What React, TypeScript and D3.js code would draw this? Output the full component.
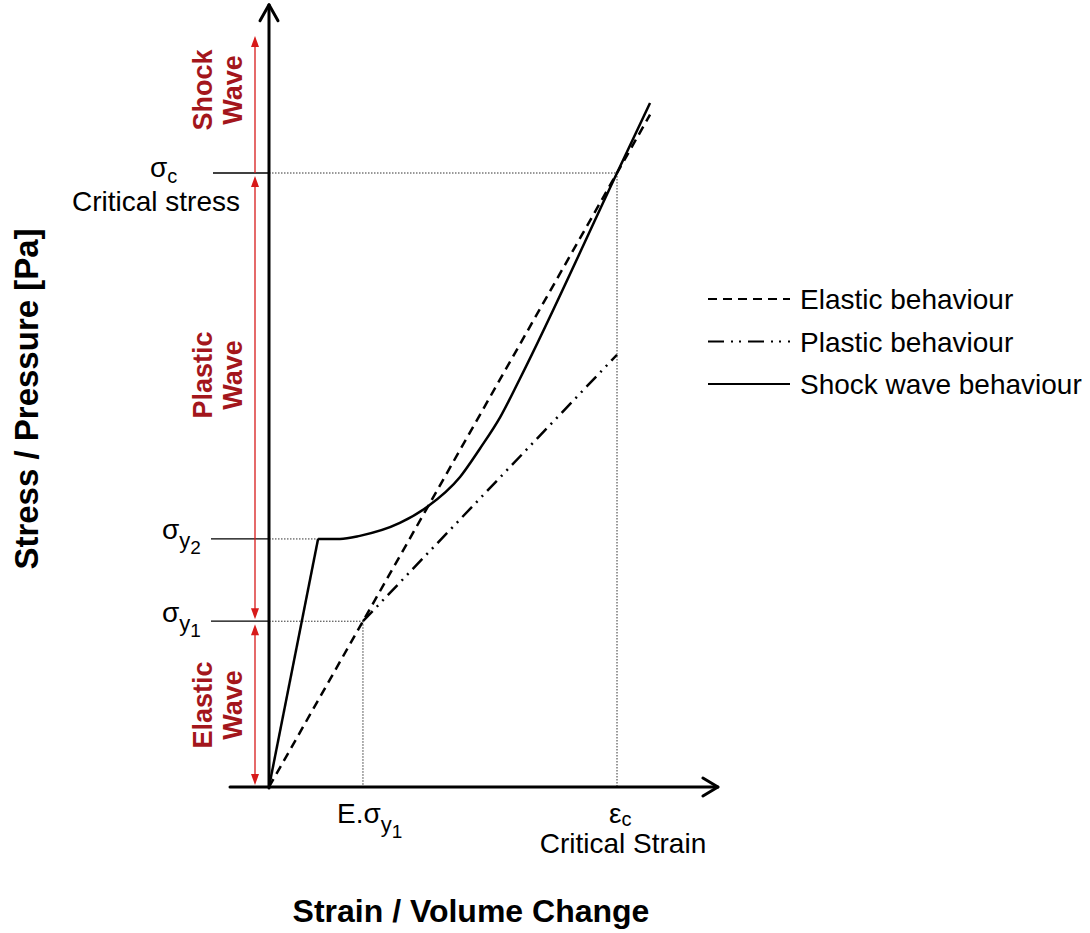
import React from "react";
import * as d3 from "d3";

// ---- data (normalised strain / stress units) ----
const elasticX = [0, 1.095];
const elasticY = [0, 1.095];
const plasticX = [0.27, 1.0];
const plasticY = [0.27, 0.704];
const shockX = [0, 0.141, 0.204, 0.261, 0.376, 0.454, 0.549, 0.606, 0.664, 0.721, 1.0, 1.095];
const shockY = [0, 0.404, 0.404, 0.409, 0.43, 0.456, 0.505, 0.551, 0.602, 0.665, 1.0, 1.114];
const sigmaY1 = 0.27;
const sigmaY2 = 0.404;
const sigmaC = 1.0;
const epsY1 = 0.27;
const epsC = 1.0;
const waveNames = ["Shock", "Plastic", "Elastic"];
const waveBounds = [[1.0, 1.223], [0.27, 1.0], [0, 0.27]];
const legendLabels = ["Elastic behaviour", "Plastic behaviour", "Shock wave behaviour"];
const axisTitleY = "Stress / Pressure [Pa]";
const axisTitleX = "Strain / Volume Change";

const W = 1090, H = 933;
const x = d3.scaleLinear().domain([0, 1]).range([269, 617]);
const y = d3.scaleLinear().domain([0, 1]).range([787, 173]);

const FONT = "'Liberation Sans', Arial, sans-serif";
const RED = "#d71a1a";
const DARKRED = "#a3161c";

export default function App() {
  const line = d3.line<[number, number]>().x(d => x(d[0])).y(d => y(d[1]));
  const curve = d3.line<[number, number]>().x(d => x(d[0])).y(d => y(d[1])).curve(d3.curveMonotoneX);
  const elasticPts = elasticX.map((v, i) => [v, elasticY[i]] as [number, number]);
  const plasticPts = plasticX.map((v, i) => [v, plasticY[i]] as [number, number]);
  const shockPts = shockX.map((v, i) => [v, shockY[i]] as [number, number]);
  const x0 = x(0), y0 = y(0);
  const yTop = y(1.274), xEnd = x(1.29);
  const redX = 255;

  const upHead = (tipY: number) => `M${redX},${tipY} L${redX - 4},${tipY + 11} L${redX + 4},${tipY + 11} Z`;
  const downHead = (tipY: number) => `M${redX},${tipY} L${redX - 4},${tipY - 11} L${redX + 4},${tipY - 11} Z`;
  const waveCenters = [90, 375, 705];

  return (
    <svg width={W} height={H} style={{ display: "block", position: "absolute", left: 0, top: 0 }} fontFamily={FONT}>
      <rect width={W} height={H} fill="white" />
      {/* dotted guide lines */}
      <g stroke="#333" strokeWidth={1} strokeDasharray="1.5 1.5" fill="none">
        <line x1={x0} x2={x(epsC)} y1={y(sigmaC)} y2={y(sigmaC)} />
        <line x1={x(epsC)} x2={x(epsC)} y1={y(sigmaC)} y2={y0} />
        <line x1={x0} x2={x(shockX[1])} y1={y(sigmaY2)} y2={y(sigmaY2)} />
        <line x1={x0} x2={x(epsY1)} y1={y(sigmaY1)} y2={y(sigmaY1)} />
        <line x1={x(epsY1)} x2={x(epsY1)} y1={y(sigmaY1)} y2={y0} />
      </g>
      {/* tick lines on y */}
      <g stroke="#000" strokeWidth={1.3}>
        <line x1={213} x2={x0} y1={y(sigmaC)} y2={y(sigmaC)} />
        <line x1={211} x2={x0} y1={y(sigmaY2)} y2={y(sigmaY2)} />
        <line x1={211} x2={x0} y1={y(sigmaY1)} y2={y(sigmaY1)} />
      </g>
      {/* red wave arrows */}
      <g>
        {waveBounds.map((b, i) => {
          const top = y(b[1]), bot = y(b[0]);
          const t = i === 0 ? top : top + 3;
          const bb = i === 0 ? bot : bot - 2;
          return (
            <g key={i}>
              <line x1={redX} x2={redX} y1={t + 4} y2={bb - (i === 0 ? 0 : 4)} stroke={RED} strokeWidth={1.3} />
              <path d={upHead(t)} fill={RED} />
              {i !== 0 && <path d={downHead(bb)} fill={RED} />}
            </g>
          );
        })}
        {waveNames.map((n, i) => (
          <g key={n} transform={`translate(0,${waveCenters[i]})`} fill={DARKRED} fontWeight="bold" fontSize={27} textAnchor="middle">
            <text transform={`translate(212,0) rotate(-90)`}>{n}</text>
            <text transform={`translate(242,0) rotate(-90)`}>Wave</text>
          </g>
        ))}
      </g>
      {/* axes */}
      <g stroke="#000" strokeWidth={3} fill="none" strokeLinecap="round" strokeLinejoin="round">
        <line x1={x0} x2={x0} y1={y0 + 1} y2={yTop} />
        <path d={`M${x0 - 9},${yTop + 16} L${x0},${yTop} L${x0 + 9},${yTop + 16}`} />
        <line x1={230} x2={xEnd} y1={y0} y2={y0} />
        <path d={`M${xEnd - 15},${y0 - 9} L${xEnd},${y0} L${xEnd - 15},${y0 + 9}`} />
      </g>
      {/* behaviours */}
      <path d={line(elasticPts) || ""} stroke="#000" strokeWidth={2.5} fill="none" strokeDasharray="9 6" />
      <path d={line(plasticPts) || ""} stroke="#000" strokeWidth={2.5} fill="none" strokeDasharray="14 6 2 6 2 6" />
      <path d={line(shockPts.slice(0, 2)) || ""} stroke="#000" strokeWidth={2.5} fill="none" />
      <path d={curve(shockPts.slice(1)) || ""} stroke="#000" strokeWidth={2.5} fill="none" />
      {/* y labels */}
      <g fill="#000" fontSize={28}>
        <text x={150} y={177}>σ<tspan fontSize={20} dy={6}>c</tspan></text>
        <text x={72} y={211}>Critical stress</text>
        <text x={162} y={539}>σ<tspan fontSize={22} dy={9}>y</tspan><tspan fontSize={19} dy={6}>2</tspan></text>
        <text x={162} y={622}>σ<tspan fontSize={22} dy={9}>y</tspan><tspan fontSize={19} dy={6}>1</tspan></text>
      </g>
      {/* x labels */}
      <g fill="#000" fontSize={28}>
        <text x={337} y={823}>E.σ<tspan fontSize={22} dy={9}>y</tspan><tspan fontSize={19} dy={6}>1</tspan></text>
        <text x={609} y={823}>ε<tspan fontSize={20} dy={3}>c</tspan></text>
        <text x={623} y={853} textAnchor="middle">Critical Strain</text>
      </g>
      {/* axis titles */}
      <text transform={`translate(38,399) rotate(-90)`} textAnchor="middle" fontWeight="bold" fontSize={33}>{axisTitleY}</text>
      <text x={471} y={922} textAnchor="middle" fontWeight="bold" fontSize={32}>{axisTitleX}</text>
      {/* legend */}
      <g>
        {legendLabels.map((l, i) => {
          const ly = 299 + i * 42.5;
          const dash = i === 0 ? "9 6" : i === 1 ? "16 7 2 6 2 7" : undefined;
          return (
            <g key={l}>
              <line x1={708} x2={790} y1={ly} y2={ly} stroke="#000" strokeWidth={2} strokeDasharray={dash} />
              <text x={800} y={ly + 10} fontSize={28}>{l}</text>
            </g>
          );
        })}
      </g>
    </svg>
  );
}
